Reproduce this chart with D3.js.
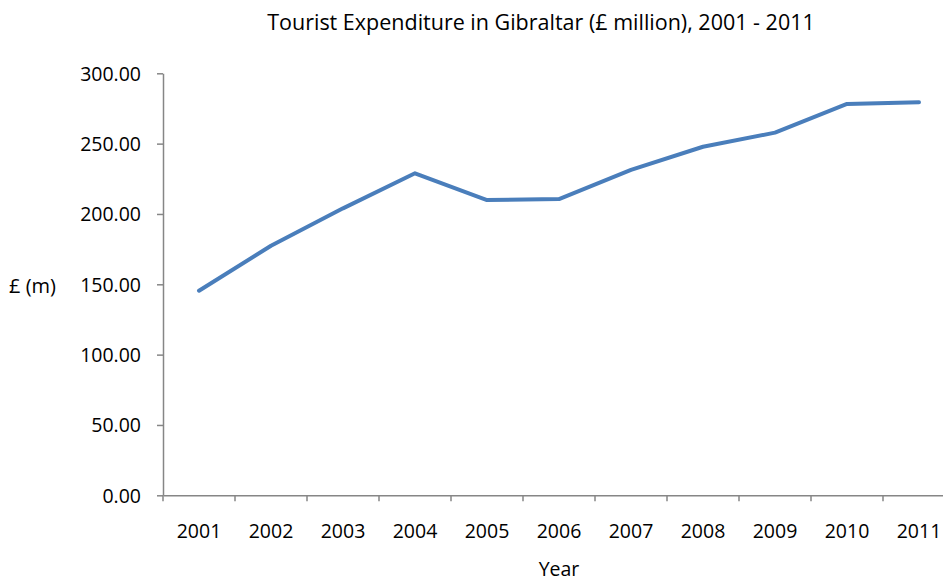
<!DOCTYPE html>
<html><head><meta charset="utf-8">
<script src="https://cdn.jsdelivr.net/npm/d3@7"></script>
<style>body{margin:0;background:#fff}svg text{font-family:"Open Sans",Lato,sans-serif;fill:#000}</style>
</head><body><svg id="c" width="943" height="584"></svg>
<script>
const years = ["2001","2002","2003","2004","2005","2006","2007","2008","2009","2010","2011"];
const values = [145.4,177.4,204.0,228.9,209.9,210.6,231.3,247.8,257.8,278.2,279.4];
const yTicks = [0,50,100,150,200,250,300];

(function(){
const svg = d3.select("#c");
const mL = 163, mR = 955, mT = 73.3, mB = 495.3;
const x = d3.scaleBand().domain(years).range([mL, mR]);
const y = d3.scaleLinear().domain([0,300]).range([mB, mT]);
const axisColor = "#868686";

// y axis
const ya = svg.append("g").attr("transform",`translate(${mL},0)`)
  .call(d3.axisLeft(y).tickValues(yTicks).tickFormat(d3.format(".2f")).tickSize(6).tickSizeOuter(0));
ya.select(".domain").attr("stroke",axisColor).attr("stroke-width",1.5);
ya.selectAll(".tick line").attr("stroke",axisColor).attr("stroke-width",1.5);
ya.selectAll(".tick text").attr("font-size",19.5).attr("x",-22).attr("dy","0.35em");

// x axis
const xa = svg.append("g").attr("transform",`translate(0,${mB})`)
  .call(d3.axisBottom(x).tickSize(0).tickSizeOuter(0));
xa.select(".domain").attr("stroke",axisColor).attr("stroke-width",1.5);
xa.selectAll(".tick text").attr("font-size",19.5).attr("y",36).attr("dy","0.35em");
const bounds = years.map(d => x(d));
xa.selectAll(".bt").data(bounds).enter().append("line")
  .attr("x1",d=>d).attr("x2",d=>d).attr("y1",0).attr("y2",6)
  .attr("stroke",axisColor).attr("stroke-width",1.5);

// line
const line = d3.line().x((d,i)=>x(years[i])+x.bandwidth()/2).y(d=>y(d));
svg.append("path").datum(values).attr("d",line)
  .attr("fill","none").attr("stroke","#4a7ebb").attr("stroke-width",4)
  .attr("stroke-linejoin","round").attr("stroke-linecap","round");

// titles
svg.append("text").attr("x",541).attr("y",22).attr("text-anchor","middle").attr("dy","0.35em")
  .attr("font-size",21.5).text("Tourist Expenditure in Gibraltar (£ million), 2001 - 2011");
svg.append("text").attr("x",559).attr("y",576).attr("text-anchor","middle")
  .attr("font-size",19.5).text("Year");
svg.append("text").attr("x",9).attr("y",286).attr("dy","0.35em")
  .attr("font-size",20).text("£ (m)");
})();
</script></body></html>
